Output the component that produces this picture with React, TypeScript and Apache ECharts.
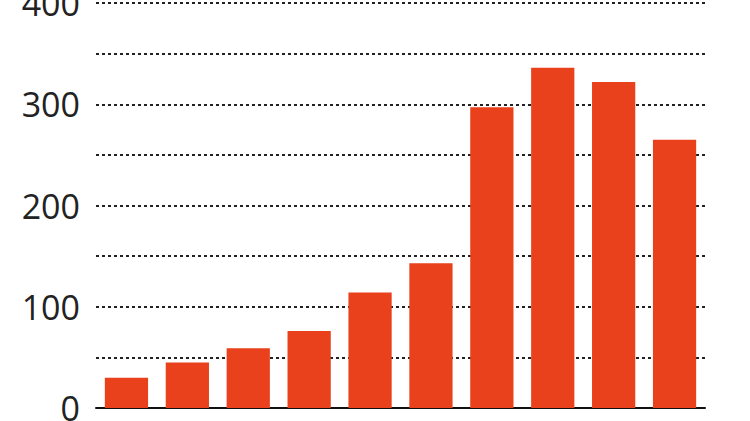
import React, { useEffect, useRef } from "react";
import * as echarts from "echarts";

const categories = ["1", "2", "3", "4", "5", "6", "7", "8", "9", "10"];
const values = [30, 45, 59, 76, 114, 143, 297, 336, 322, 265];
const yTickLabels = [0, 100, 200, 300, 400];

export default function App() {
  const ref = useRef<HTMLDivElement>(null);
  useEffect(() => {
    document.body.style.margin = "0";
    const chart = echarts.init(ref.current!, null, { renderer: "svg" });
    chart.setOption({
      animation: false,
      backgroundColor: "#ffffff",
      grid: {
        left: 96,
        right: 45,
        top: 3,
        bottom: 13,
        containLabel: false,
        outerBoundsMode: "none",
      },
      xAxis: {
        type: "category",
        data: categories,
        axisLine: { show: true, lineStyle: { color: "#111", width: 2 } },
        axisTick: { show: false },
        axisLabel: { show: false },
      },
      yAxis: {
        type: "value",
        min: 0,
        max: 400,
        interval: 50,
        axisLine: { show: false },
        axisTick: { show: false },
        axisLabel: {
          margin: 16,
          fontFamily: "Open Sans",
          fontSize: 34,
          color: "#222",
          formatter: (v: number) => (yTickLabels.includes(v) ? String(v) : ""),
        },
        splitLine: {
          show: true,
          lineStyle: { color: "#222", width: 2, type: [3, 3] },
        },
      },
      series: [
        {
          type: "bar",
          data: values,
          barCategoryGap: "29%",
          itemStyle: { color: "#e8411b" },
        },
      ],
    });
    return () => chart.dispose();
  }, []);
  return (
    <div
      ref={ref}
      style={{ position: "absolute", left: 0, top: 0, width: 750, height: 421 }}
    />
  );
}
